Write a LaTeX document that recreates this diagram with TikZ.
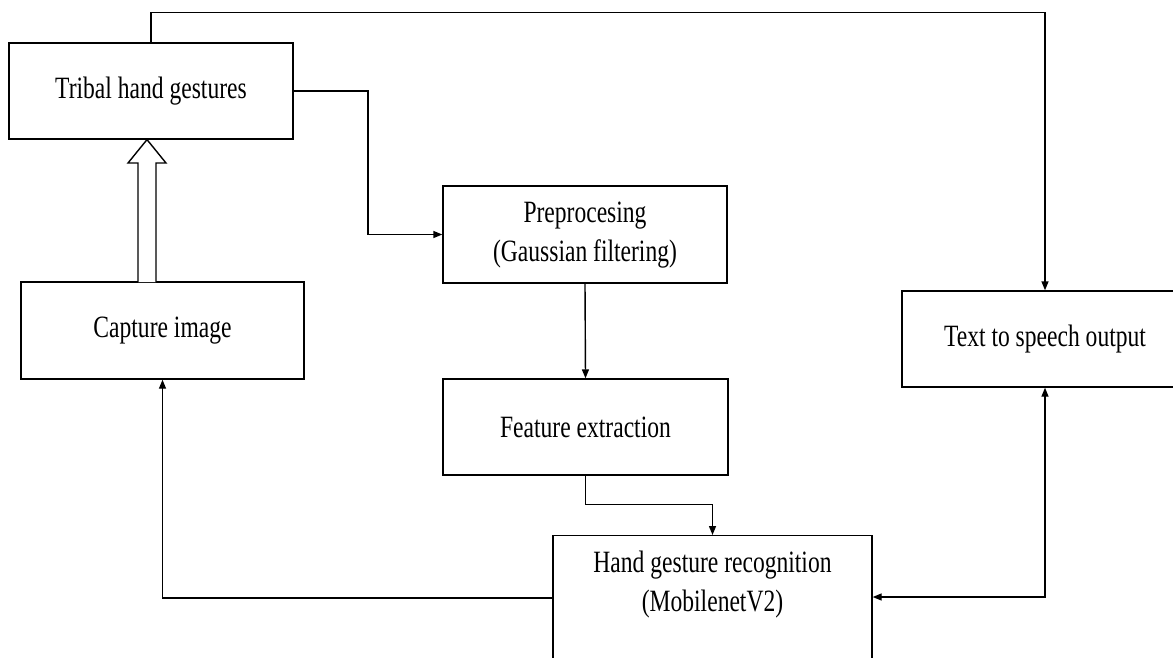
\documentclass[tikz,border=0pt]{standalone}
\usepackage{fontspec}
\setmainfont{Liberation Serif}
\usetikzlibrary{arrows.meta}
\newcommand{\sq}[1]{\scalebox{0.76}[1]{#1}}
\tikzset{
  box/.style={draw=black, line width=1.4pt, rectangle, inner sep=0pt,
    font=\fontsize{31}{39}\selectfont},
  lbl/.style={inner sep=0pt, font=\fontsize{31}{39}\selectfont},
  conn/.style={draw=black, line width=1.4pt, -{Triangle[length=9pt,width=7pt]}},
  connboth/.style={draw=black, line width=1.4pt, {Triangle[length=9pt,width=7pt]}-{Triangle[length=9pt,width=7pt]}},
}
\begin{document}
\begin{tikzpicture}[x=1pt,y=-1pt]
\useasboundingbox (0,0) rectangle (1173,657);
\clip (0,0) rectangle (1173,657);
\fill[white] (0,0) rectangle (1173,657);

\node[box, minimum width=284pt, minimum height=96pt] (tribal) at (151,91) {\sq{Tribal hand gestures}};
\node[box, minimum width=283pt, minimum height=97pt] (cap) at (162.5,330.5) {\sq{Capture image}};
\node[box, minimum width=284pt, minimum height=97pt] (pre) at (585,234.5)
  {\sq{\begin{tabular}{@{}c@{}}Preprocesing\\(Gaussian filtering)\end{tabular}}};
\node[box, minimum width=285pt, minimum height=96pt] (feat) at (585.5,427) {\sq{Feature extraction}};
\node[box, minimum width=319pt, minimum height=190pt, anchor=north] (hgr) at (712.5,535) {};
\node[lbl] (hgrtext) at (712.5,584)
  {\sq{\begin{tabular}{@{}c@{}}Hand gesture recognition\\(MobilenetV2)\end{tabular}}};
\node[box, minimum width=286pt, minimum height=96pt] (tts) at (1045,339) {\sq{Text to speech output}};

\coordinate (b1) at (368,0);
\coordinate (lowline) at (0,598);
\coordinate (rline) at (0,597);

% top connector
\draw[conn] (tribal.north) -- ++(0,-30) -| (tts.north);
% tribal -> preprocessing
\draw[conn] (tribal.east) -| (b1 |- pre.west) -- (pre.west);
% preprocessing -> feature
\draw[conn] (pre.south) -- (feat.north);
% feature -> hgr
\draw[conn] (feat.south) -- ++(0,29) -| (hgr.north);
% hgr -> capture
\draw[conn] (hgr.west |- lowline) -| (cap.south);
% tts <-> hgr
\draw[connboth] (tts.south) |- (hgr.east |- rline);

% hollow arrow capture -> tribal
\draw[line width=1.4pt, fill=white, line join=miter]
  (138,282) -- (138,163) -- (128,163) -- (147,139.6) -- (166,163) -- (156,163) -- (156,282);
\end{tikzpicture}
\end{document}
